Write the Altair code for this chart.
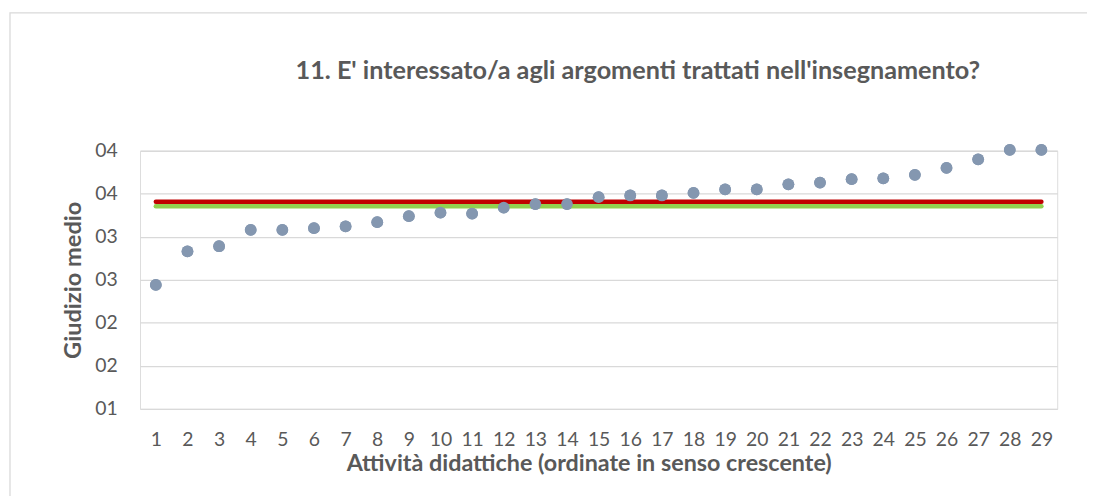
import altair as alt
import pandas as pd

# ---- data ----
activities = list(range(1, 30))
scores = [2.44, 2.83, 2.89, 3.08, 3.08, 3.10, 3.12, 3.17, 3.24, 3.28,
          3.27, 3.34, 3.38, 3.38, 3.46, 3.48, 3.48, 3.51, 3.55, 3.55,
          3.61, 3.63, 3.67, 3.68, 3.72, 3.80, 3.90, 4.01, 4.01]
ref_names = ["media_ateneo", "media_corso"]
ref_values = [3.408, 3.354]
ref_colors = ["#c00000", "#92d050"]
y_ticks = [1.0, 1.5, 2.0, 2.5, 3.0, 3.5, 4.0]
y_tick_labels = ["01", "02", "02", "03", "03", "04", "04"]

title_text = "11. E' interessato/a agli argomenti trattati nell'insegnamento?"
x_title = "Attività didattiche (ordinate in senso crescente)"
y_title = "Giudizio medio"

FONT = "Lato"
TXT = "#595959"

df = pd.DataFrame({"att": activities, "val": scores})
ref_df = pd.DataFrame({"name": ref_names, "val": ref_values,
                       "x1": [activities[0]] * 2, "x2": [activities[-1]] * 2,
                       "color": ref_colors})

label_map = "{" + ",".join(f"'{v:g}':'{l}'" for v, l in zip(y_ticks, y_tick_labels)) + "}"

xscale = alt.Scale(type="point", padding=0.5)
yscale = alt.Scale(domain=[1, 4], nice=False, zero=False)

xenc = alt.X("att:O", scale=xscale, sort=activities,
             axis=alt.Axis(title=x_title, labelAngle=0, ticks=False, domain=False,
                           grid=False, labelBaseline="alphabetic", labelPadding=37,
                           labelFont=FONT, labelFontSize=19.5, labelColor=TXT,
                           titleFont=FONT, titleFontSize=23.5, titleFontWeight="bold",
                           titleColor=TXT, titleBaseline="alphabetic",
                           titleX=452, titleY=62, titleAnchor="middle"))
yenc = alt.Y("val:Q", scale=yscale,
             axis=alt.Axis(title=y_title, values=y_ticks,
                           labelExpr=f"{label_map}[toString(datum.value)] || datum.label",
                           ticks=False, domain=False, grid=True, gridColor="#d9d9d9",
                           gridWidth=1.3, labelPadding=23,
                           labelFont=FONT, labelFontSize=19.5, labelColor=TXT,
                           titleFont=FONT, titleFontSize=23.8, titleFontWeight="bold",
                           titleColor=TXT, titleAngle=-90, titleBaseline="alphabetic",
                           titleX=-59.5, titleY=130, titleAlign="center"))

border = alt.Chart(pd.DataFrame({"k": [0]})).mark_rect(
    filled=False, stroke="#d9d9d9", strokeWidth=1.3
).encode(x=alt.value(-131), y=alt.value(-139), x2=alt.value(2000), y2=alt.value(2000))

title_layer = alt.Chart(pd.DataFrame({"t": [title_text]})).mark_text(
    font=FONT, fontSize=25.4, fontWeight="bold", color=TXT,
    align="center", baseline="alphabetic"
).encode(text="t:N", x=alt.value(501.5), y=alt.value(-72))

refs = alt.Chart(ref_df).mark_rule(strokeWidth=4.5, strokeCap="round").encode(
    x=alt.X("x1:O", scale=xscale, sort=activities),
    x2="x2:O",
    y=alt.Y("val:Q", scale=yscale),
    color=alt.Color("color:N", scale=None),
)

points = alt.Chart(df).mark_circle(size=140, opacity=1, color="#8497b0").encode(
    x=xenc, y=yenc
)

chart = alt.layer(border, title_layer, points, refs, points).properties(
    width=924, height=260,
    padding={"left": 133, "top": 142, "right": 30, "bottom": 86},
    autosize=alt.AutoSizeParams(type="none"),
).configure_view(stroke=None).configure(background="white")

chart.save("out.html", embed_options={"renderer": "svg", "actions": False})
